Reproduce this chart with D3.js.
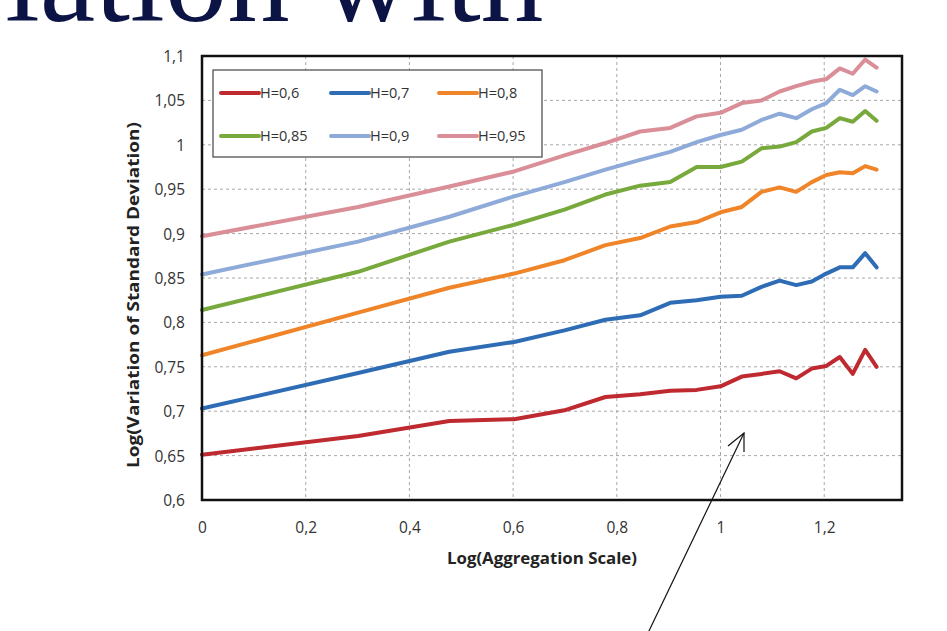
<!DOCTYPE html>
<html>
<head>
<meta charset="utf-8">
<script src="https://cdn.jsdelivr.net/npm/d3@7"></script>
<style>
html,body{margin:0;padding:0;background:#fff;}
svg{display:block;}
</style>
</head>
<body>
<svg id="chart" width="947" height="631"></svg>
<script>
// ---- data ----
const aggScaleLog = [0, 0.301, 0.477, 0.602, 0.699, 0.778, 0.845, 0.903, 0.954, 1, 1.041, 1.079, 1.114, 1.146, 1.176, 1.204, 1.230, 1.255, 1.279, 1.301];
const seriesNames = ["H=0,6", "H=0,7", "H=0,8", "H=0,85", "H=0,9", "H=0,95"];
const h060 = [0.651, 0.672, 0.689, 0.691, 0.701, 0.716, 0.719, 0.723, 0.724, 0.728, 0.739, 0.742, 0.745, 0.737, 0.748, 0.751, 0.761, 0.742, 0.769, 0.750];
const h070 = [0.703, 0.743, 0.767, 0.778, 0.791, 0.803, 0.808, 0.822, 0.825, 0.829, 0.830, 0.840, 0.847, 0.842, 0.846, 0.855, 0.862, 0.862, 0.878, 0.862];
const h080 = [0.763, 0.811, 0.839, 0.855, 0.870, 0.887, 0.895, 0.908, 0.913, 0.924, 0.930, 0.947, 0.952, 0.947, 0.958, 0.966, 0.969, 0.968, 0.976, 0.972];
const h085 = [0.814, 0.857, 0.891, 0.910, 0.927, 0.944, 0.954, 0.958, 0.975, 0.975, 0.981, 0.996, 0.998, 1.003, 1.015, 1.019, 1.030, 1.026, 1.038, 1.027];
const h090 = [0.854, 0.891, 0.919, 0.942, 0.958, 0.972, 0.983, 0.992, 1.003, 1.011, 1.017, 1.028, 1.035, 1.030, 1.040, 1.047, 1.062, 1.056, 1.066, 1.060];
const h095 = [0.897, 0.930, 0.953, 0.970, 0.988, 1.002, 1.015, 1.019, 1.032, 1.036, 1.047, 1.050, 1.060, 1.066, 1.071, 1.074, 1.086, 1.080, 1.096, 1.087];
const seriesValues = [h060, h070, h080, h085, h090, h095];
const xTicks = [0, 0.2, 0.4, 0.6, 0.8, 1, 1.2];
const xTickLabels = ["0", "0,2", "0,4", "0,6", "0,8", "1", "1,2"];
const yTicks = [0.6, 0.65, 0.7, 0.75, 0.8, 0.85, 0.9, 0.95, 1, 1.05, 1.1];
const yTickLabels = ["0,6", "0,65", "0,7", "0,75", "0,8", "0,85", "0,9", "0,95", "1", "1,05", "1,1"];
const colors = ["#be2a30", "#2e6db5", "#f08428", "#78a93c", "#8eaad8", "#d98e98"];

// ---- layout ----
const svg = d3.select("#chart");
const L = 202, R = 902, T = 56, B = 500;
const x = d3.scaleLinear().domain([0, 1.35]).range([L, R]);
const y = d3.scaleLinear().domain([0.6, 1.1]).range([B, T]);
const font = "'Open Sans', 'Liberation Sans', sans-serif";

// slide title fragment
svg.append("text")
  .attr("x", 5).attr("y", 21)
  .attr("font-family", "'Liberation Serif', serif")
  .attr("font-size", 125)
  .attr("fill", "#0b1444")
  .text("iation with");

// gridlines
const grid = svg.append("g");
grid.selectAll("line.h").data(yTicks.filter(v => v > 0.6 && v < 1.1)).join("line")
  .attr("x1", L).attr("x2", R)
  .attr("y1", d => y(d)).attr("y2", d => y(d))
  .attr("stroke", "#a8a8a8").attr("stroke-width", 1).attr("stroke-dasharray", "3,3");
grid.selectAll("line.v").data(xTicks.filter(v => v > 0)).join("line")
  .attr("y1", T).attr("y2", B)
  .attr("x1", d => x(d)).attr("x2", d => x(d))
  .attr("stroke", "#a8a8a8").attr("stroke-width", 1).attr("stroke-dasharray", "3,3");

// axes (labels via d3 axes)
const xAxis = d3.axisBottom(x).tickValues(xTicks).tickSize(0).tickPadding(0)
  .tickFormat((d, i) => xTickLabels[i]);
const gx = svg.append("g").attr("transform", `translate(0,${B})`).call(xAxis);
gx.select(".domain").remove();
gx.selectAll("text").attr("dy", 0).attr("y", 33)
  .attr("font-family", font).attr("font-size", 15.5).attr("fill", "#333");

const yAxis = d3.axisLeft(y).tickValues(yTicks).tickSize(0).tickPadding(0)
  .tickFormat((d, i) => yTickLabels[i]);
const gy = svg.append("g").attr("transform", `translate(${L - 17},0)`).call(yAxis);
gy.select(".domain").remove();
gy.selectAll("text").attr("dy", "0.35em")
  .attr("font-family", font).attr("font-size", 15.5).attr("fill", "#333");

// series lines
const line = d3.line().x((d, i) => x(aggScaleLog[i])).y(d => y(d));
svg.append("g").selectAll("path").data(seriesValues).join("path")
  .attr("d", d => line(d))
  .attr("fill", "none")
  .attr("stroke", (d, i) => colors[i])
  .attr("stroke-width", 4)
  .attr("stroke-linejoin", "round")
  .attr("stroke-linecap", "round");

// plot border
svg.append("rect").attr("x", L).attr("y", T).attr("width", R - L).attr("height", B - T)
  .attr("fill", "none").attr("stroke", "#111").attr("stroke-width", 2.5);

// legend
const lg = svg.append("g");
lg.append("rect").attr("x", 213).attr("y", 70).attr("width", 329).attr("height", 87)
  .attr("fill", "#fff").attr("stroke", "#444").attr("stroke-width", 1.2);
const colX = [221, 331, 439];
const rowY = [93, 136];
seriesNames.forEach((name, i) => {
  const cx = colX[i % 3], cy = rowY[Math.floor(i / 3)];
  lg.append("line").attr("x1", cx).attr("x2", cx + 38).attr("y1", cy).attr("y2", cy)
    .attr("stroke", colors[i]).attr("stroke-width", 4).attr("stroke-linecap", "round");
  lg.append("text").attr("x", cx + 39).attr("y", cy).attr("dy", "0.35em")
    .attr("font-family", font).attr("font-size", 14.5).attr("fill", "#333").text(name);
});

// axis titles
svg.append("text").attr("x", 542).attr("y", 564).attr("text-anchor", "middle")
  .attr("font-family", font).attr("font-weight", "bold").attr("font-size", 16).attr("fill", "#222")
  .attr("textLength", 190).attr("lengthAdjust", "spacingAndGlyphs")
  .text("Log(Aggregation Scale)");
svg.append("text").attr("transform", "translate(139,295) rotate(-90)").attr("text-anchor", "middle")
  .attr("font-family", font).attr("font-weight", "bold").attr("font-size", 16).attr("fill", "#222")
  .attr("textLength", 346).attr("lengthAdjust", "spacingAndGlyphs")
  .text("Log(Variation of Standard Deviation)");

// annotation arrow
const ax1 = 648, ay1 = 633, ax2 = 744, ay2 = 433;
svg.append("line").attr("x1", ax1).attr("y1", ay1).attr("x2", ax2).attr("y2", ay2)
  .attr("stroke", "#111").attr("stroke-width", 1.2);
svg.append("path").attr("d", `M728,446 L${ax2},${ay2} L744,452`)
  .attr("fill", "none").attr("stroke", "#111").attr("stroke-width", 1.2);
</script>
</body>
</html>
